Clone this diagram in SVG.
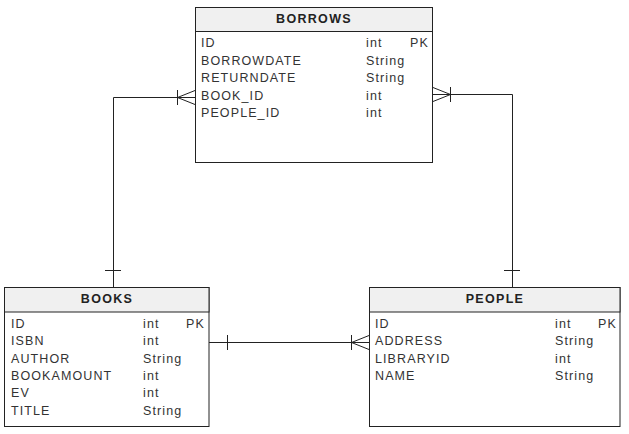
<svg xmlns="http://www.w3.org/2000/svg" width="629" height="434" viewBox="0 0 629 434">
<style>
.box{fill:#ffffff;stroke:#222222;stroke-width:1}
.hdr{fill:#f0f0f0;stroke:#222222;stroke-width:1}
.title{font-family:"Liberation Sans",Arial,sans-serif;font-size:12.5px;font-weight:bold;fill:#222222;text-anchor:middle;letter-spacing:1.3px}
.f{font-family:"Liberation Sans",Arial,sans-serif;font-size:12.5px;fill:#333333;letter-spacing:1.1px}
.ln{fill:none;stroke:#222222;stroke-width:1}
</style>
<rect width="629" height="434" fill="#ffffff"/>
<g id="connectors">
  <polyline class="ln" points="113.5,287 113.5,97.5 195,97.5"/>
  <line class="ln" x1="105" y1="270.5" x2="121" y2="270.5"/>
  <line class="ln" x1="177.5" y1="90" x2="177.5" y2="105"/>
  <line class="ln" x1="177.5" y1="97.5" x2="195" y2="90.5"/>
  <line class="ln" x1="177.5" y1="97.5" x2="195" y2="104.5"/>
  <polyline class="ln" points="512.5,287 512.5,94.5 432,94.5"/>
  <line class="ln" x1="504" y1="270.5" x2="520" y2="270.5"/>
  <line class="ln" x1="450.5" y1="87" x2="450.5" y2="102"/>
  <line class="ln" x1="450.5" y1="94.5" x2="433" y2="87.5"/>
  <line class="ln" x1="450.5" y1="94.5" x2="433" y2="101.5"/>
  <line class="ln" x1="209" y1="342.5" x2="369" y2="342.5"/>
  <line class="ln" x1="227.5" y1="335" x2="227.5" y2="350"/>
  <line class="ln" x1="351.5" y1="335" x2="351.5" y2="350"/>
  <line class="ln" x1="351.5" y1="342.5" x2="369" y2="335.5"/>
  <line class="ln" x1="351.5" y1="342.5" x2="369" y2="349.5"/>
</g>
<g id="borrows">
  <rect class="box" x="195.5" y="7.5" width="237" height="155"/>
  <rect class="hdr" x="195.5" y="7.5" width="237" height="24"/>
  <text class="title" x="314" y="23">BORROWS</text>
  <text class="f" x="201" y="47">ID</text><text class="f" x="366" y="47">int</text><text class="f" x="410" y="47">PK</text>
  <text class="f" x="201" y="64.5">BORROWDATE</text><text class="f" x="366" y="64.5">String</text>
  <text class="f" x="201" y="82">RETURNDATE</text><text class="f" x="366" y="82">String</text>
  <text class="f" x="201" y="99.5">BOOK_ID</text><text class="f" x="366" y="99.5">int</text>
  <text class="f" x="201" y="117">PEOPLE_ID</text><text class="f" x="366" y="117">int</text>
</g>
<g id="books">
  <rect class="box" x="4.5" y="287.5" width="204.5" height="139"/>
  <rect class="hdr" x="4.5" y="287.5" width="204.5" height="24.5"/>
  <text class="title" x="107" y="303">BOOKS</text>
  <text class="f" x="11" y="328">ID</text><text class="f" x="143" y="328">int</text><text class="f" x="186" y="328">PK</text>
  <text class="f" x="11" y="345.3">ISBN</text><text class="f" x="143" y="345.3">int</text>
  <text class="f" x="11" y="362.6">AUTHOR</text><text class="f" x="143" y="362.6">String</text>
  <text class="f" x="11" y="379.9">BOOKAMOUNT</text><text class="f" x="143" y="379.9">int</text>
  <text class="f" x="11" y="397.2">EV</text><text class="f" x="143" y="397.2">int</text>
  <text class="f" x="11" y="414.5">TITLE</text><text class="f" x="143" y="414.5">String</text>
</g>
<g id="people">
  <rect class="box" x="369.5" y="287.5" width="250.5" height="139"/>
  <rect class="hdr" x="369.5" y="287.5" width="250.5" height="24.5"/>
  <text class="title" x="495" y="303">PEOPLE</text>
  <text class="f" x="375" y="328">ID</text><text class="f" x="555" y="328">int</text><text class="f" x="598" y="328">PK</text>
  <text class="f" x="375" y="345.3">ADDRESS</text><text class="f" x="555" y="345.3">String</text>
  <text class="f" x="375" y="362.6">LIBRARYID</text><text class="f" x="555" y="362.6">int</text>
  <text class="f" x="375" y="379.9">NAME</text><text class="f" x="555" y="379.9">String</text>
</g>
</svg>
